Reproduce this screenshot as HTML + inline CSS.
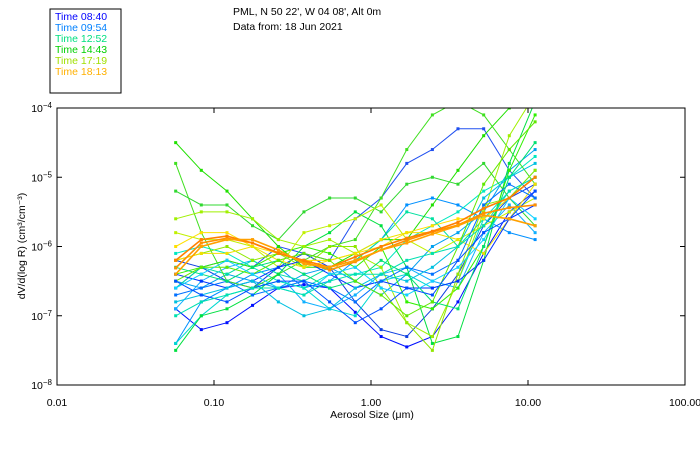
<!DOCTYPE html>
<html><head><meta charset="utf-8"><style>
body{margin:0;background:#fff}
svg{display:block;font-family:"Liberation Sans",sans-serif}
</style></head><body>
<svg id="c" width="700" height="450">
<rect x="50" y="9" width="71" height="84" fill="none" stroke="#000"/>
<g font-size="10.5">
<text x="55" y="20" fill="#0000ff">Time 08:40</text>
<text x="55" y="31" fill="#0080ff">Time 09:54</text>
<text x="55" y="42" fill="#00e080">Time 12:52</text>
<text x="55" y="53" fill="#00d000">Time 14:43</text>
<text x="55" y="64" fill="#a0e000">Time 17:19</text>
<text x="55" y="75" fill="#ffb000">Time 18:13</text>
</g>
<text x="233" y="15" font-size="10.5">PML, N 50 22', W 04 08', Alt 0m</text>
<text x="233" y="30" font-size="10.5">Data from: 18 Jun 2021</text>
<g id="series"></g>
<rect x="57" y="108" width="628" height="277" fill="none" stroke="#000"/>
<g id="axes" font-size="10.5"></g>
<text x="372" y="418" font-size="10.5" text-anchor="middle">Aerosol Size (μm)</text>
<text transform="translate(25,246) rotate(-90)" font-size="10.5" text-anchor="middle">dV/d(log R) (cm³/cm⁻³)</text>
</svg>
<script>
const sizes=[0.057,0.083,0.121,0.176,0.257,0.374,0.545,0.794,1.16,1.69,2.46,3.58,5.22,7.6,11.1];
const xTicks=[0.01,0.1,1,10,100];
const xTickLabels=["0.01","0.10","1.00","10.00","100.00"];
const yTicks=[-4,-5,-6,-7,-8];
const colors=["#0010ff","#1040e0","#2050f0","#0090ff","#00a0f0","#10b0ff","#00d8d0","#00e0a0","#00e8c0","#20e000","#40e020","#30d830","#00e040","#30f000","#a0f000","#c0f000","#90e800","#ffe000","#f0e000","#ff9000","#ff8000","#ffa000","#0030ff","#0070ff","#00c0e0","#00e070","#60e800","#10d0ff","#0050ff","#00e0b0"];
const s0=[-6.9,-7.2,-7.1,-6.85,-6.6,-6.55,-6.6,-6.95,-7.3,-7.45,-7.3,-6.8,-6.1,-5.5,-5.2];
const s1=[-6.2,-6.3,-6.5,-6.6,-6.3,-6.1,-6.3,-6.8,-7.2,-7.3,-6.9,-6.4,-5.7,-5.3,-5.1];
const s2=[-6.6,-6.3,-6.2,-6.3,-6.0,-6.1,-6.2,-5.6,-5.3,-4.8,-4.6,-4.3,-4.3,-4.9,-5.3];
const s3=[-7.4,-6.8,-6.6,-6.4,-6.3,-6.6,-6.5,-6.2,-5.9,-5.4,-5.3,-5.4,-5.6,-5.8,-5.9];
const s4=[-6.5,-6.6,-6.4,-6.5,-6.6,-6.4,-6.3,-6.5,-6.7,-6.4,-6.0,-5.8,-5.5,-4.9,-4.6];
const s5=[-6.9,-6.5,-6.3,-6.2,-6.4,-6.8,-6.9,-6.7,-6.4,-6.3,-6.5,-6.6,-5.8,-5.4,-5.8];
const s6=[-7.4,-7.0,-6.7,-6.6,-6.5,-6.6,-6.9,-7.0,-6.5,-6.4,-6.6,-6.5,-5.6,-5.2,-5.0];
const s7=[-6.6,-6.3,-6.4,-6.2,-6.4,-6.5,-6.3,-6.2,-5.9,-5.5,-5.6,-6.0,-5.6,-5.3,-4.9];
const s8=[-6.1,-6.0,-6.1,-6.3,-6.5,-6.6,-6.4,-6.4,-6.3,-5.9,-5.7,-5.5,-5.2,-5.0,-4.7];
const s9=[-4.5,-4.9,-5.2,-5.6,-6.0,-6.3,-6.3,-6.1,-5.9,-5.9,-5.4,-4.9,-4.4,-4.0,-3.8];
const s10=[-4.8,-5.8,-6.5,-6.6,-6.4,-6.2,-6.0,-5.9,-5.3,-4.6,-4.1,-3.9,-4.1,-4.6,-5.1];
const s11=[-5.2,-5.4,-5.4,-5.7,-5.9,-5.5,-5.3,-5.3,-5.5,-5.1,-5.0,-5.1,-4.8,-5.3,-5.7];
const s12=[-7.5,-7.0,-6.9,-6.7,-6.4,-6.0,-5.8,-5.5,-5.7,-6.3,-7.4,-7.3,-6.2,-4.8,-3.9];
const s13=[-6.4,-6.3,-6.2,-6.3,-6.1,-6.0,-6.1,-6.3,-6.0,-6.8,-6.9,-6.6,-6.0,-4.9,-4.1];
const s14=[-5.6,-5.5,-5.5,-5.6,-5.9,-6.0,-5.9,-6.1,-6.3,-7.1,-7.3,-6.5,-5.5,-4.4,-3.8];
const s15=[-5.8,-5.9,-5.9,-6.0,-6.3,-5.8,-5.7,-5.6,-5.4,-5.9,-6.1,-5.9,-5.7,-5.5,-5.3];
const s16=[-6.2,-6.1,-6.0,-6.2,-6.1,-6.3,-6.0,-6.0,-6.6,-7.1,-7.5,-6.4,-5.4,-5.3,-4.9];
const s17=[-6.0,-5.8,-5.8,-6.0,-6.1,-6.2,-6.2,-6.1,-6.0,-5.8,-5.7,-5.6,-5.6,-5.3,-5.0];
const s18=[-6.2,-6.1,-6.1,-6.0,-6.2,-6.3,-6.2,-6.1,-5.9,-5.8,-5.8,-5.9,-6.1,-5.6,-5.1];
const s19=[-6.31,-5.95,-5.88,-5.95,-6.09,-6.22,-6.34,-6.22,-6.05,-5.91,-5.79,-5.69,-5.52,-5.44,-5.4];
const s20=[-6.2,-5.9,-5.85,-5.95,-6.1,-6.2,-6.3,-6.15,-6.0,-5.88,-5.78,-5.65,-5.45,-5.3,-5.0];
const s21=[-6.4,-6.0,-5.9,-5.9,-6.05,-6.25,-6.3,-6.2,-6.05,-5.95,-5.82,-5.7,-5.55,-5.6,-5.7];
const s22=[-6.4,-6.5,-6.6,-6.5,-6.3,-6.2,-6.4,-6.6,-6.5,-6.6,-6.6,-6.5,-6.2,-5.6,-5.4];
const s23=[-6.7,-6.6,-6.5,-6.7,-6.6,-6.5,-6.6,-6.8,-6.5,-6.3,-6.4,-6.2,-5.4,-5.1,-5.3];
const s24=[-6.8,-6.7,-6.6,-6.5,-6.8,-7.0,-6.9,-6.6,-6.4,-6.5,-6.3,-6.0,-5.3,-5.0,-4.8];
const s25=[-6.3,-6.4,-6.5,-6.3,-6.2,-6.4,-6.6,-6.5,-6.2,-6.4,-6.8,-6.9,-6.0,-5.0,-4.5];
const s26=[-6.5,-6.3,-6.3,-6.4,-6.2,-6.1,-6.2,-6.5,-6.7,-7.0,-6.8,-6.0,-5.1,-4.6,-4.2];
const s27=[-6.6,-6.4,-6.2,-6.4,-6.6,-6.7,-6.4,-6.3,-6.6,-6.7,-6.5,-6.3,-5.9,-5.3,-5.6];
const s28=[-6.5,-6.7,-6.8,-6.6,-6.5,-6.5,-6.8,-7.1,-6.9,-6.6,-6.7,-6.2,-5.8,-5.6,-5.2];
const s29=[-7.0,-6.8,-6.7,-6.6,-6.6,-6.7,-6.5,-6.4,-6.4,-6.2,-6.1,-6.0,-5.7,-5.2,-5.0];
const series=[s0,s1,s2,s3,s4,s5,s6,s7,s8,s9,s10,s11,s12,s13,s14,s15,s16,s17,s18,s22,s23,s24,s25,s26,s27,s28,s29,s19,s20,s21];
const seriesColors=[0,1,2,3,4,5,6,7,8,9,10,11,12,13,14,15,16,17,18,22,23,24,25,26,27,28,29,19,20,21];
const NS="http://www.w3.org/2000/svg";
const X0=57,X1=685,Y0=108,Y1=385;
function xs(v){return X0+(Math.log10(v)+2)/4*(X1-X0);}
function ys(l){return Y0+(-4-l)/4*(Y1-Y0);}
const g=document.getElementById('series');
g.innerHTML='<clipPath id="clp"><rect x="57" y="108" width="628" height="277"/></clipPath>';
g.setAttribute('clip-path','url(#clp)');
series.forEach((s,i)=>{
  const ci=seriesColors[i];
  const c=colors[ci];
  const pl=document.createElementNS(NS,'polyline');
  pl.setAttribute('points',s.map((v,j)=>xs(sizes[j]).toFixed(1)+','+ys(v).toFixed(1)).join(' '));
  pl.setAttribute('fill','none');pl.setAttribute('stroke',c);pl.setAttribute('stroke-width',(ci>=19&&ci<=21)?1.6:1);
  
  
  g.appendChild(pl);
  s.forEach((v,j)=>{
    const r=document.createElementNS(NS,'rect');
    r.setAttribute('x',xs(sizes[j])-1.5);r.setAttribute('y',ys(v)-1.5);
    r.setAttribute('width',3);r.setAttribute('height',3);r.setAttribute('fill',c);
    
    
    g.appendChild(r);
  });
});
const ax=document.getElementById('axes');
xTicks.forEach((t,i)=>{
  const x=xs(t);
  const tl=document.createElementNS(NS,'path');
  tl.setAttribute('d',`M${x},${Y1}v-5M${x},${Y0}v5`);tl.setAttribute('stroke','#000');
  
  
  ax.appendChild(tl);
  const tx=document.createElementNS(NS,'text');
  tx.setAttribute('x',x);tx.setAttribute('y',406);tx.setAttribute('text-anchor','middle');
  tx.textContent=xTickLabels[i];
  
  
  ax.appendChild(tx);
});
yTicks.forEach(t=>{
  const y=ys(t);
  const tl=document.createElementNS(NS,'path');
  tl.setAttribute('d',`M${X0},${y}h5M${X1},${y}h-5`);tl.setAttribute('stroke','#000');
  
  
  ax.appendChild(tl);
  const tx=document.createElementNS(NS,'text');
  tx.setAttribute('x',52);tx.setAttribute('y',y+4);tx.setAttribute('text-anchor','end');
  tx.innerHTML='10<tspan dy="-4" font-size="8">'+String(t).replace('-','−')+'</tspan>';
  
  
  ax.appendChild(tx);
});
</script>
</body></html>
